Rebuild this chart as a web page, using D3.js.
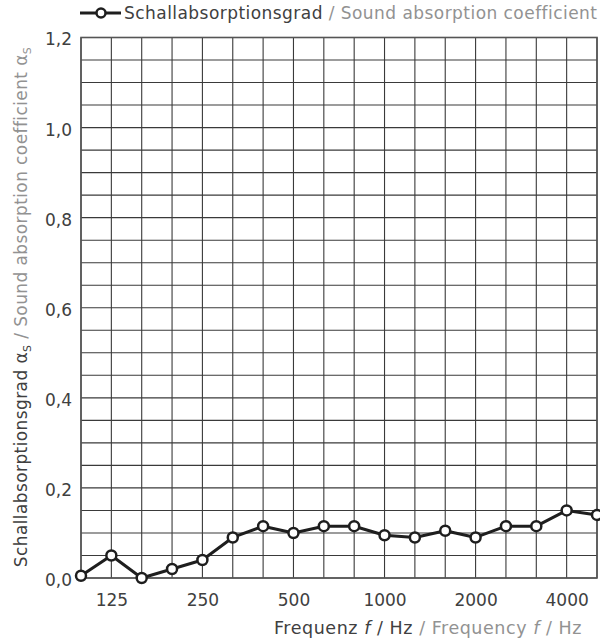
<!DOCTYPE html>
<html><head><meta charset="utf-8">
<script src="https://cdn.jsdelivr.net/npm/d3@7"></script>
<style>body{margin:0;background:#fff;} svg{display:block;}</style>
</head><body>
<script>
const bands = ["100","125","160","200","250","315","400","500","630","800","1000","1250","1600","2000","2500","3150","4000","5000"];
const absorption = [0.005,0.05,0.0,0.02,0.04,0.09,0.115,0.10,0.115,0.115,0.095,0.09,0.105,0.09,0.115,0.115,0.15,0.14];
const xTickLabels = ["125","250","500","1000","2000","4000"];
const yTicks = [0,0.2,0.4,0.6,0.8,1.0,1.2];

const W=600,H=640;
const m={left:81,right:597,top:37.5,bottom:578};
const svg=d3.select("body").append("svg").attr("width",W).attr("height",H);
const font="'DejaVu Sans', sans-serif";
const dark="#404040", gray="#929292";

const x=d3.scalePoint().domain(bands).range([m.left,m.right]);
const y=d3.scaleLinear().domain([0,1.2]).range([m.bottom,m.top]);

// grid
const g=svg.append("g");
g.selectAll("line.v").data(bands).join("line")
 .attr("x1",d=>x(d)).attr("x2",d=>x(d)).attr("y1",m.top).attr("y2",m.bottom)
 .attr("stroke","#3a3a3a").attr("stroke-width",1.1);
g.selectAll("line.h").data(d3.range(0,25).map(i=>i*0.05)).join("line")
 .attr("x1",m.left).attr("x2",m.right).attr("y1",d=>y(d)).attr("y2",d=>y(d))
 .attr("stroke","#3a3a3a").attr("stroke-width",1.1);
g.append("rect").attr("x",m.left).attr("y",m.top).attr("width",m.right-m.left).attr("height",m.bottom-m.top)
 .attr("fill","none").attr("stroke","#555").attr("stroke-width",1.6);

// y axis labels
const yAxis=d3.axisLeft(y).tickValues(yTicks).tickSize(0).tickPadding(9)
 .tickFormat(d=>d3.format(".1f")(d).replace(".",","));
const ya=svg.append("g").attr("transform",`translate(${m.left},2)`).call(yAxis);
ya.select(".domain").remove();
ya.selectAll("text").attr("font-family",font).attr("font-size",17).attr("fill",dark);

// x axis labels
const xAxis=d3.axisBottom(x).tickValues(xTickLabels).tickSize(0).tickPadding(16);
const xa=svg.append("g").attr("transform",`translate(0,${m.bottom})`).call(xAxis);
xa.select(".domain").remove();
xa.selectAll("text").attr("font-family",font).attr("font-size",17).attr("fill",dark);

// data line
const line=d3.line().x((d,i)=>x(bands[i])).y(d=>y(d));
svg.append("path").datum(absorption).attr("d",line).attr("fill","none")
 .attr("stroke","#1e1e1e").attr("stroke-width",3).attr("stroke-linejoin","round");
svg.selectAll("circle.p").data(absorption).join("circle")
 .attr("cx",(d,i)=>x(bands[i])).attr("cy",d=>y(d)).attr("r",5)
 .attr("fill","#fff").attr("stroke","#1e1e1e").attr("stroke-width",2.5);

// legend
const lg=svg.append("g");
lg.append("line").attr("x1",80).attr("x2",121).attr("y1",13).attr("y2",13).attr("stroke","#1e1e1e").attr("stroke-width",3);
lg.append("circle").attr("cx",101).attr("cy",13).attr("r",4.5).attr("fill","#fff").attr("stroke","#1e1e1e").attr("stroke-width",2.5);
const lt=lg.append("text").attr("x",124).attr("y",19).attr("font-family",font).attr("font-size",17).attr("letter-spacing",0.45);
lt.append("tspan").attr("fill",dark).text("Schallabsorptionsgrad");
lt.append("tspan").attr("fill",gray).text(" / Sound absorption coefficient");

// x title
const xt=svg.append("text").attr("x",582).attr("y",634).attr("text-anchor","end").attr("font-family",font).attr("font-size",17.5).attr("letter-spacing",0.55);
xt.append("tspan").attr("fill",dark).text("Frequenz ");
xt.append("tspan").attr("fill",dark).attr("font-style","italic").text("f");
xt.append("tspan").attr("fill",dark).text(" / Hz ");
xt.append("tspan").attr("fill",gray).text("/ Frequency ");
xt.append("tspan").attr("fill",gray).attr("font-style","italic").text("f");
xt.append("tspan").attr("fill",gray).text(" / Hz");

// y title
const yt=svg.append("text").attr("transform","translate(27,307) rotate(-90)").attr("text-anchor","middle").attr("font-family",font).attr("font-size",17).attr("letter-spacing",0.4);
yt.append("tspan").attr("fill",dark).text("Schallabsorptionsgrad α");
yt.append("tspan").attr("fill",dark).attr("font-size",11).attr("dy",4).text("S");
yt.append("tspan").attr("fill",gray).attr("dy",-4).text(" / Sound absorption coefficient α");
yt.append("tspan").attr("fill",gray).attr("font-size",11).attr("dy",4).text("S");
</script>
</body></html>
